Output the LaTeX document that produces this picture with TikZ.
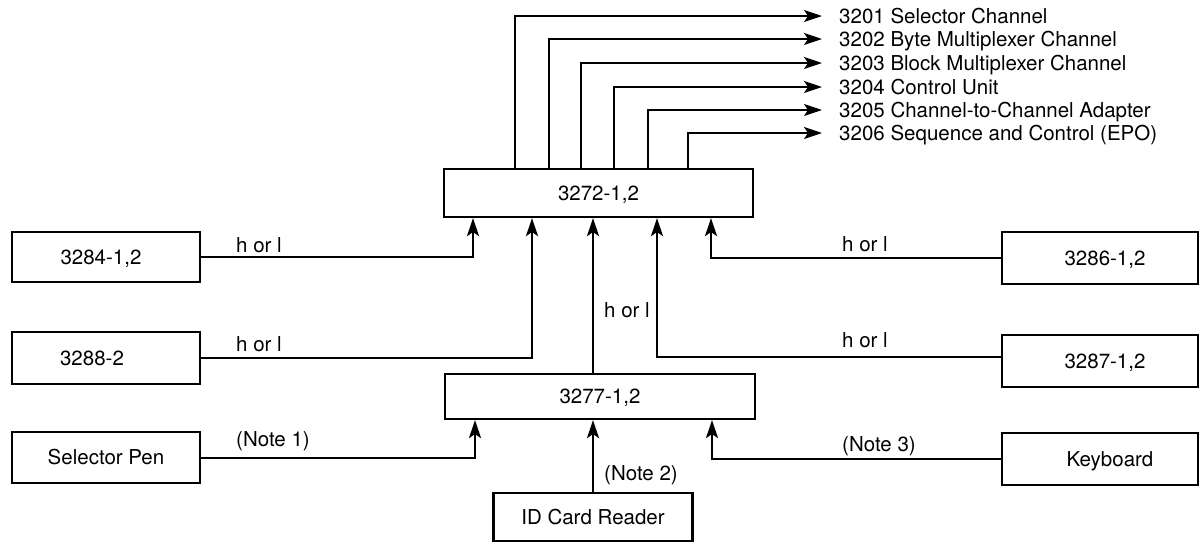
\documentclass[tikz,border=0pt]{standalone}
\usepackage{fontspec}
\setmainfont{TeX Gyre Heros}
\usetikzlibrary{arrows.meta}
\begin{document}
\begin{tikzpicture}[x=1pt,y=-1pt,
  txt/.style={font=\fontsize{20.5}{24}\selectfont, text height=14.7pt, text depth=0pt},
  box/.style={txt, draw, line width=2.2pt, inner sep=0pt},
  lbl/.style={txt, inner sep=0pt},
  outlbl/.style={txt, inner sep=0pt, inner xsep=17pt, anchor=west},
  arr/.style={line width=2pt, -{Stealth[length=18pt,width=12pt,inset=4pt]}}]
\useasboundingbox (0,0) rectangle (1201,544);

% boxes
\node[box, minimum width=309pt, minimum height=48pt] (b3272) at (598.5,193) {3272-1,2};
\node[box, minimum width=310pt, minimum height=45pt] (b3277) at (600,396.5) {3277-1,2};
\node[box, minimum width=188pt, minimum height=50pt] (b3284) at (106,257) {\hspace*{-10pt}3284-1,2};
\node[box, minimum width=188pt, minimum height=52pt] (b3288) at (106,358) {\hspace*{-28pt}3288-2};
\node[box, minimum width=188pt, minimum height=51pt] (bpen) at (106,457.5) {Selector Pen};
\node[box, minimum width=196pt, minimum height=52pt] (b3286) at (1100,258) {\hspace*{10pt}3286-1,2};
\node[box, minimum width=196pt, minimum height=52pt] (b3287) at (1100,361) {\hspace*{10pt}3287-1,2};
\node[box, minimum width=196pt, minimum height=52pt] (bkey) at (1100,459) {\hspace*{20pt}Keyboard};
\node[box, minimum width=199pt, minimum height=48pt] (bid) at (593,517) {ID Card Reader};

% output labels
\node[outlbl] (t1) at (822,16) {3201 Selector Channel};
\node[outlbl] (t2) at (822,39) {3202 Byte Multiplexer Channel};
\node[outlbl] (t3) at (822,63) {3203 Block Multiplexer Channel};
\node[outlbl] (t4) at (822,87) {3204 Control Unit};
\node[outlbl] (t5) at (822,110) {3205 Channel-to-Channel Adapter};
\node[outlbl] (t6) at (822,133) {3206 Sequence and Control (EPO)};

% outputs from 3272
\draw[arr] ([xshift=-83.5pt]b3272.north) |- (t1.west);
\draw[arr] ([xshift=-49.5pt]b3272.north) |- (t2.west);
\draw[arr] ([xshift=-17.5pt]b3272.north) |- (t3.west);
\draw[arr] ([xshift=15.5pt]b3272.north) |- (t4.west);
\draw[arr] ([xshift=49.5pt]b3272.north) |- (t5.west);
\draw[arr] ([xshift=89.5pt]b3272.north) |- (t6.west);

% inputs to 3272
\draw[arr] (b3284.east) -| ([xshift=-125.5pt]b3272.south);
\draw[arr] (b3288.east) -| ([xshift=-66.5pt]b3272.south);
\draw[arr] ([xshift=-7pt]b3277.north) -- ([xshift=-5.5pt]b3272.south);
\draw[arr] ([yshift=4pt]b3287.west) -| ([xshift=58.5pt]b3272.south);
\draw[arr] (b3286.west) -| ([xshift=112.5pt]b3272.south);

% inputs to 3277
\draw[arr] (bpen.east) -| ([xshift=-125pt]b3277.south);
\draw[arr] (bid.north) -- (bid.north |- b3277.south);
\draw[arr] (bkey.west) -| ([xshift=112pt]b3277.south);

% connector labels
\node[lbl] (h1) at (259,245) {h or l};
\node[lbl] (h2) at (259,344) {h or l};
\node[lbl] (h3) at (627,310) {h or l};
\node[lbl] (h4) at (865,244) {h or l};
\node[lbl] (h5) at (865,340) {h or l};
\node[lbl] (n1) at (273,439) {(Note 1)};
\node[lbl] (n2) at (641,473) {(Note 2)};
\node[lbl] (n3) at (879,444) {(Note 3)};
\end{tikzpicture}
\end{document}
